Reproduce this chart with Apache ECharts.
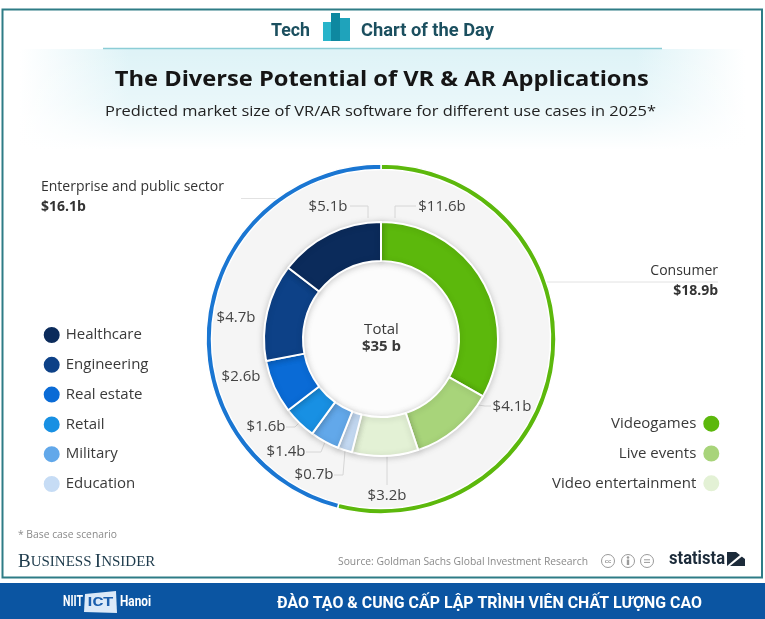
<!DOCTYPE html>
<html>
<head>
<meta charset="utf-8">
<script src="https://cdn.jsdelivr.net/npm/echarts@6/dist/echarts.min.js"></script>
<style>
html,body{margin:0;padding:0;background:#fff;}
#c{width:765px;height:619px;}
</style>
</head>
<body>
<div id="c"></div>
<script>
// ---------------- DATA ----------------
const segmentNames = ['Videogames', 'Live events', 'Video entertainment', 'Education', 'Military', 'Retail', 'Real estate', 'Engineering', 'Healthcare'];
const segmentValues = [11.6, 4.1, 3.2, 0.7, 1.4, 1.6, 2.6, 4.7, 5.1];
const groupNames = ['Consumer', 'Enterprise and public sector'];
const groupValues = [18.9, 16.1];
const enterpriseLegend = ['Healthcare', 'Engineering', 'Real estate', 'Retail', 'Military', 'Education'];
const consumerLegend = ['Videogames', 'Live events', 'Video entertainment'];
const totalLabel = 'Total';
const totalValue = 35;

// ---------------- STYLE / LAYOUT ----------------
const segmentColors = {
  'Videogames': '#5cb80c', 'Live events': '#a8d47a', 'Video entertainment': '#e3f1d5',
  'Education': '#c6dcf5', 'Military': '#62a8ea', 'Retail': '#1890e3',
  'Real estate': '#0a6bd6', 'Engineering': '#0d4187', 'Healthcare': '#0b2b5b'
};
const groupColors = { 'Consumer': '#5cb80c', 'Enterprise and public sector': '#1a76d2' };
const CENTER = [381, 339];
// label centre offsets from the pie centre, and leader line points
const labelSpots = {
  'Videogames':          { at: [61, -132],  line: [[14, -121], [14, -133], [35, -133]] },
  'Live events':         { at: [131, 68],   line: [[97, 66], [104, 67], [110, 67]] },
  'Video entertainment': { at: [6, 157],    line: [[6, 117], [6, 132], [6, 146]] },
  'Education':           { at: [-67, 136],  line: [[-36, 112], [-38, 136], [-47, 136]] },
  'Military':            { at: [-95, 113],  line: [[-56, 103], [-60, 113], [-75, 113]] },
  'Retail':              { at: [-115, 88],  line: [[-82, 84], [-86, 88], [-95, 88]] },
  'Real estate':         { at: [-140, 38],  line: null },
  'Engineering':         { at: [-145, -21], line: null },
  'Healthcare':          { at: [-53, -132], line: [[-13, -121], [-13, -133], [-31, -133]] }
};
const groupSpots = {
  'Consumer': { x: 718, y: 281.5, align: 'right', line: [[547, 282], [620, 282], [718, 282]] },
  'Enterprise and public sector': { x: 41, y: 197.5, align: 'left', line: [[282, 198.5], [262, 198.5], [241, 198.5]] }
};

const FONT = '"Open Sans", "Noto Sans", sans-serif';
const measureCtx = document.createElement('canvas').getContext('2d');
function fit(str, font, target) {
  measureCtx.font = font;
  return target / measureCtx.measureText(str).width;
}
function txt(str, x, y, font, fill, align, target, extra) {
  const o = {
    type: 'text', x: x, y: y,
    scaleX: target ? fit(str, font, target) : 1,
    style: { text: str, font: font, fill: fill, align: align, textAlign: align, verticalAlign: 'middle', textVerticalAlign: 'middle' }
  };
  return Object.assign(o, extra || {});
}

const chart = echarts.init(document.getElementById('c'));

const titleFont = 'bold 22px "Open Sans"';
const subFont = '15px "Open Sans"';
const headFont = 'bold 19px Roboto';
const bandFont = 'bold 16px Roboto';

const graphics = [
  // outer frame
  { type: 'rect', shape: { x: 2.5, y: 9.5, width: 759.5, height: 568 }, style: { fill: 'none', stroke: '#2e7c86', lineWidth: 2 } },
  // title band gradient
  { type: 'rect', shape: { x: 20, y: 49, width: 725, height: 100 },
    style: { fill: new echarts.graphic.LinearGradient(0, 0, 1, 0, [
      { offset: 0, color: 'rgba(222,243,247,0)' }, { offset: 0.15, color: 'rgba(222,243,247,1)' },
      { offset: 0.85, color: 'rgba(222,243,247,1)' }, { offset: 1, color: 'rgba(222,243,247,0)' }]) } },
  { type: 'rect', shape: { x: 20, y: 49, width: 725, height: 101 },
    style: { fill: new echarts.graphic.LinearGradient(0, 0, 0, 1, [
      { offset: 0, color: 'rgba(255,255,255,0)' }, { offset: 0.55, color: 'rgba(255,255,255,0.35)' }, { offset: 1, color: 'rgba(255,255,255,1)' }]) } },
  { type: 'line', shape: { x1: 103, y1: 48.5, x2: 662, y2: 48.5 }, style: { stroke: '#8ccdd6', lineWidth: 1.5 } },
  // header
  txt('Tech', 271, 31, headFont, '#1b4f5f', 'left', 39),
  { type: 'rect', shape: { x: 323, y: 22, width: 8, height: 19 }, style: { fill: '#28b4ca' } },
  { type: 'rect', shape: { x: 331, y: 13, width: 9, height: 28 }, style: { fill: '#0e88a0' } },
  { type: 'rect', shape: { x: 340, y: 18, width: 10, height: 23 }, style: { fill: '#1fa3bb' } },
  txt('Chart of the Day', 361, 31, headFont, '#1b4f5f', 'left', 133),
  txt('The Diverse Potential of VR & AR Applications', 381.8, 80, titleFont, '#151515', 'center', 534),
  txt('Predicted market size of VR/AR software for different use cases in 2025*', 380.5, 112, subFont, '#222', 'center', 551),
  // centre text
  txt(totalLabel, 381.5, 330, '15px "Open Sans"', '#3a3a3a', 'center', 0, { z: 100 }),
  txt('$' + totalValue + ' b', 381.5, 347, 'bold 15px "Open Sans"', '#3a3a3a', 'center', 0, { z: 100 }),
  // footer
  txt('* Base case scenario', 18, 535, '11px "Open Sans"', '#8a8a8a', 'left', 99),
  { type: 'text', x: 18, y: 562, style: { text: '{a|B}{b|USINESS} {a|I}{b|NSIDER}', verticalAlign: 'middle', textVerticalAlign: 'middle', fill: '#1d3a4b',
      rich: { a: { font: '19px "Liberation Serif", serif', fill: '#1d3a4b' }, b: { font: '15px "Liberation Serif", serif', fill: '#1d3a4b' } } } },
  txt('Source: Goldman Sachs Global Investment Research', 338, 562, '11px "Open Sans"', '#8a8a8a', 'left', 250),
  { type: 'circle', shape: { cx: 608, cy: 561, r: 6.5 }, style: { fill: 'none', stroke: '#9a9a9a', lineWidth: 1 } },
  txt('cc', 608, 561, 'bold 6px sans-serif', '#9a9a9a', 'center', 0),
  { type: 'circle', shape: { cx: 628, cy: 561, r: 6.5 }, style: { fill: 'none', stroke: '#9a9a9a', lineWidth: 1 } },
  { type: 'circle', shape: { cx: 628, cy: 557.5, r: 1.3 }, style: { fill: '#9a9a9a' } },
  { type: 'rect', shape: { x: 626.8, y: 559.5, width: 2.4, height: 5.5 }, style: { fill: '#9a9a9a' } },
  { type: 'circle', shape: { cx: 647, cy: 561, r: 6.5 }, style: { fill: 'none', stroke: '#9a9a9a', lineWidth: 1 } },
  { type: 'line', shape: { x1: 644, y1: 559.8, x2: 650, y2: 559.8 }, style: { stroke: '#9a9a9a', lineWidth: 1 } },
  { type: 'line', shape: { x1: 644, y1: 562.4, x2: 650, y2: 562.4 }, style: { stroke: '#9a9a9a', lineWidth: 1 } },
  txt('statista', 669, 559, 'bold 19px Roboto', '#1c2b3a', 'left', 56),
  { type: 'polygon', shape: { points: [[727, 552], [745, 552], [745, 566], [727, 566]] }, style: { fill: '#1c2b3a' } },
  { type: 'polygon', shape: { points: [[727, 566], [743, 552.5], [745, 552.5], [745, 554], [730, 566]] }, style: { fill: '#fff' } },
  { type: 'polygon', shape: { points: [[736, 552], [745, 552], [745, 559]] }, style: { fill: '#fff' } },
  // bottom band
  { type: 'rect', shape: { x: 0, y: 583, width: 765, height: 36 }, style: { fill: '#0b55a2' } },
  txt('NIIT', 63, 602, 'bold 14px Roboto', '#ffffff', 'left', 20),
  { type: 'polygon', shape: { points: [[85, 594], [116, 591], [117, 613], [84, 612]] }, style: { fill: '#dbe9f8' } },
  txt('ICT', 100.5, 602.5, 'bold 13px Roboto', '#1b5fae', 'center', 26),
  txt('Hanoi', 120, 602, 'bold 14px Roboto', '#ffffff', 'left', 31),
  txt('ĐÀO TẠO & CUNG CẤP LẬP TRÌNH VIÊN CHẤT LƯỢNG CAO', 489.5, 604, bandFont, '#ffffff', 'center', 425)
];

const segmentData = segmentNames.map((n, i) => ({
  name: n, value: segmentValues[i],
  itemStyle: { color: segmentColors[n] },
  labelLine: { show: !!labelSpots[n].line }
}));
const groupData = groupNames.map((n, i) => ({ name: n, value: groupValues[i], itemStyle: { color: groupColors[n] } }));

const option = {
  animation: false,
  backgroundColor: '#ffffff',
  graphic: graphics,
  legend: [
    { data: enterpriseLegend, orient: 'vertical', left: 41.7, top: 325, padding: 0, icon: 'circle', itemWidth: 18, itemHeight: 18, itemGap: 9.8,
      selectedMode: false, textStyle: { fontFamily: FONT, fontSize: 15, color: '#3a3a3a', lineHeight: 18, padding: 0 } },
    { data: consumerLegend, orient: 'vertical', right: 43.7, top: 413.7, padding: 0, align: 'right', icon: 'circle', itemWidth: 18, itemHeight: 18, itemGap: 9.8,
      selectedMode: false, textStyle: { fontFamily: FONT, fontSize: 15, color: '#3a3a3a', lineHeight: 18, padding: [0, 1, 0, 0] } }
  ],
  series: [
    { type: 'pie', center: CENTER, radius: [0, 171], silent: true, label: { show: false }, labelLine: { show: false },
      data: [{ value: 1, name: 'bg', itemStyle: { color: '#f5f5f5' } }], z: 1 },
    { type: 'pie', center: CENTER, radius: [0, 78], silent: true, label: { show: false }, labelLine: { show: false },
      data: [{ value: 1, name: 'hole', itemStyle: { color: '#fcfcfc' } }], z: 1 },
    { type: 'pie', center: CENTER, radius: [169.5, 175], startAngle: 90, clockwise: true, silent: true, avoidLabelOverlap: false,
      itemStyle: { borderColor: '#ffffff', borderWidth: 1.5 },
      data: groupData,
      label: { show: true, position: 'outside', formatter: '{n|{b}}\n{v|${c}b}',
        rich: { n: { fontFamily: FONT, fontSize: 14, color: '#333', lineHeight: 20 }, v: { fontFamily: FONT, fontSize: 14, fontWeight: 'bold', color: '#333', lineHeight: 20 } } },
      labelLine: { show: true, lineStyle: { color: '#e2e2e2', width: 1 } },
      labelLayout: function (p) {
        const s = groupSpots[groupNames[p.dataIndex]];
        return { x: s.x, y: s.y, align: s.align, verticalAlign: 'middle', labelLinePoints: s.line };
      }, z: 3 },
    { type: 'pie', center: CENTER, radius: [78, 117], startAngle: 90, clockwise: true, silent: true, avoidLabelOverlap: false,
      itemStyle: { borderColor: '#ffffff', borderWidth: 2, shadowBlur: 6, shadowColor: 'rgba(0,0,0,0.18)', shadowOffsetY: 1 },
      data: segmentData,
      label: { show: true, position: 'outside', formatter: '${c}b', fontFamily: FONT, fontSize: 15, color: '#444' },
      labelLine: { show: true, lineStyle: { color: '#d6d6d6', width: 1 } },
      labelLayout: function (p) {
        const s = labelSpots[segmentNames[p.dataIndex]];
        const r = { x: CENTER[0] + s.at[0], y: CENTER[1] + s.at[1], align: 'center', verticalAlign: 'middle' };
        if (s.line) r.labelLinePoints = s.line.map(q => [CENTER[0] + q[0], CENTER[1] + q[1]]);
        return r;
      }, z: 4 }
  ]
};
chart.setOption(option);
</script>
</body>
</html>
